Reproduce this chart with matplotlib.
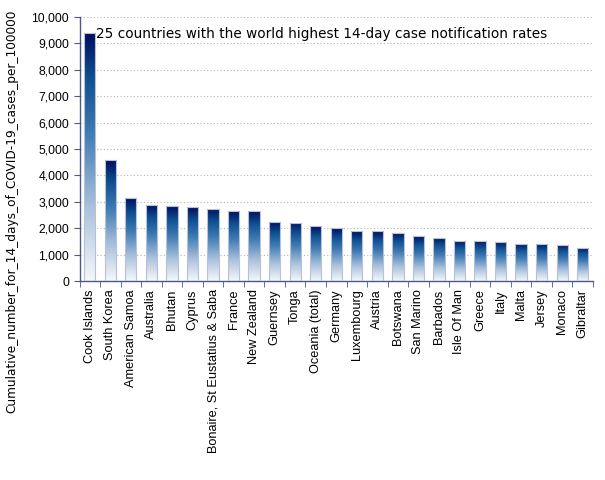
import numpy as np
import matplotlib
matplotlib.use('Agg')
from matplotlib import pyplot as plt
from matplotlib.colors import LinearSegmentedColormap
from matplotlib.ticker import FuncFormatter, FixedLocator

countries = ['Cook Islands', 'South Korea', 'American Samoa', 'Australia', 'Bhutan',
             'Cyprus', 'Bonaire, St Eustatius & Saba', 'France', 'New Zealand',
             'Guernsey', 'Tonga', 'Oceania (total)', 'Germany', 'Luxembourg',
             'Austria', 'Botswana', 'San Marino', 'Barbados', 'Isle Of Man',
             'Greece', 'Italy', 'Malta', 'Jersey', 'Monaco', 'Gibraltar']
rates = [9390, 4580, 3130, 2880, 2840, 2800, 2730, 2650, 2650,
         2220, 2210, 2070, 2000, 1890, 1890, 1820, 1700, 1630, 1530,
         1530, 1490, 1410, 1410, 1380, 1260]

title = '25 countries with the world highest 14-day case notification rates'
ylabel = 'Cumulative_number_for_14_days_of_COVID-19_cases_per_100000'

axis_col = '#4a5890'
cmap = LinearSegmentedColormap.from_list(
    'bargrad', [(0.0, '#f6f8fb'), (0.3, '#a9c1dc'), (0.6, '#3f7bb3'),
                (0.82, '#0f4f92'), (1.0, '#001060')])

fig = plt.figure(figsize=(6.05, 4.8), dpi=100)
ax = fig.add_axes([79.5 / 605, 1 - 281 / 480, (593 - 79.5) / 605, (281 - 17) / 480])

x = np.arange(len(countries))
bars = ax.bar(x, rates, width=0.55, color='none', edgecolor='#b8c0d6', linewidth=0.8, zorder=3)
grad = np.linspace(0, 1, 256).reshape(-1, 1)
for b in bars:
    im = ax.imshow(grad, cmap=cmap, origin='lower', aspect='auto',
                   extent=[b.get_x(), b.get_x() + b.get_width(), 0, b.get_height()],
                   zorder=2, interpolation='bilinear')
    im.set_clip_path(b)

ax.set_xlim(-0.5, len(countries) - 0.5)
ax.set_ylim(0, 10000)
ax.set_yticks(np.arange(0, 10001, 1000))
ax.yaxis.set_major_formatter(FuncFormatter(lambda v, p: '{:,.0f}'.format(v)))
ax.set_xticks(x)
ax.set_xticklabels(countries, rotation=90, fontsize=9.2, family='Liberation Sans')
ax.xaxis.set_minor_locator(FixedLocator(np.arange(-0.5, len(countries), 1.0)))
ax.tick_params(axis='x', which='major', length=0, pad=6)
ax.tick_params(axis='x', which='minor', length=4, color=axis_col, direction='out')
ax.tick_params(axis='y', length=4, color=axis_col, labelsize=8.7)
for lab in ax.get_yticklabels():
    lab.set_family('Liberation Sans')

ax.grid(axis='y', linestyle=(0, (1, 2)), color='#b4b4b4', linewidth=0.8, zorder=0)
ax.set_axisbelow(True)
for s in ['top', 'right']:
    ax.spines[s].set_visible(False)
for s in ['left', 'bottom']:
    ax.spines[s].set_color(axis_col)
    ax.spines[s].set_linewidth(1.0)

ax.text(0.033, 0.935, title, transform=ax.transAxes, fontsize=9.8, va='center', ha='left',
        family='DejaVu Sans', color='black')
fig.text(12 / 605, 1 - 211 / 480, ylabel, rotation=90, va='center', ha='center', fontsize=8.7,
         family='DejaVu Sans')

fig.savefig('out.png', dpi=100)
